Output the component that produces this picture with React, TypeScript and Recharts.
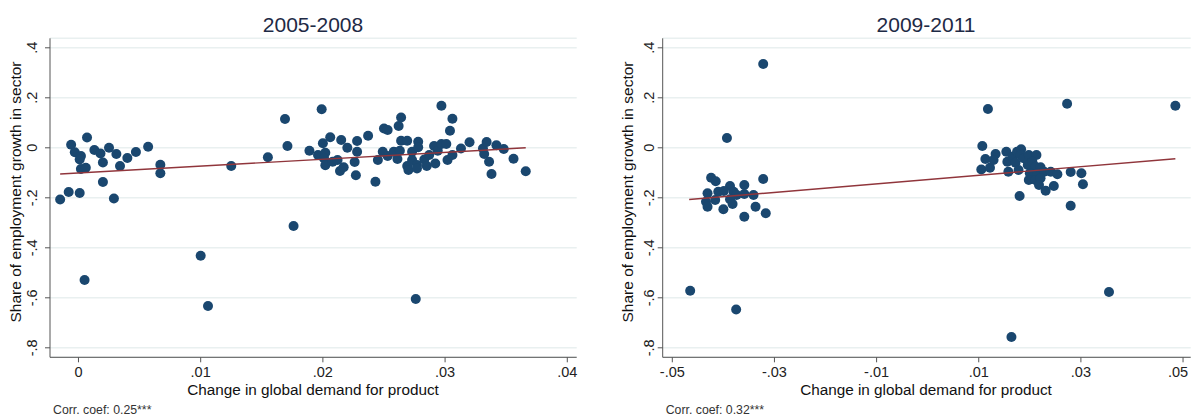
import { ScatterChart, Scatter, XAxis, YAxis, CartesianGrid } from 'recharts';

const FONT = '"Liberation Sans", Arial, Helvetica, sans-serif';
const NAVY = '#1a476f';
const MAROON = '#90353b';
const AXIS = '#555555';

const panelTitles = ['2005-2008', '2009-2011'];
const corrLabels = ['Corr. coef:  0.25***', 'Corr. coef:  0.32***'];
const xTitle = 'Change in global demand for product';
const yTitle = 'Share of employment growth in sector';

const yTicks = [-0.8, -0.6, -0.4, -0.2, 0, 0.2, 0.4];
const xTicks0508 = [0, 0.01, 0.02, 0.03, 0.04];
const xTicks0911 = [-0.05, -0.03, -0.01, 0.01, 0.03, 0.05];

// [change in global demand, share of employment growth]
const points0508: [number, number][] = [
  [-0.0015, -0.207], [-0.0008, -0.177], [0.0001, -0.181], [-0.0006, 0.012],
  [-0.0003, -0.018], [0.0002, -0.033], [0.0001, -0.047], [0.0002, -0.085],
  [0.0006, -0.08], [0.0007, 0.041], [0.0013, -0.009], [0.0018, -0.023],
  [0.002, -0.059], [0.002, -0.137], [0.0025, 0.0], [0.0031, -0.025],
  [0.0034, -0.073], [0.0029, -0.203], [0.004, -0.041], [0.0047, -0.017],
  [0.0057, 0.004], [0.0067, -0.068], [0.0067, -0.102], [0.0005, -0.529],
  [0.01, -0.432], [0.0106, -0.633], [0.0125, -0.073], [0.0155, -0.038],
  [0.0176, -0.313], [0.0169, 0.115], [0.0171, 0.007],
  [0.0199, 0.154], [0.0189, -0.012], [0.0196, -0.029], [0.02, 0.018],
  [0.0206, 0.042], [0.0202, -0.02], [0.0201, -0.043], [0.0202, -0.07],
  [0.0208, -0.056], [0.0212, -0.049], [0.0214, -0.093], [0.0217, -0.078],
  [0.0215, 0.031], [0.022, 0.0], [0.0228, 0.027], [0.0228, -0.016],
  [0.0226, -0.057], [0.0227, -0.11], [0.0237, 0.048], [0.0245, -0.049],
  [0.0243, -0.136], [0.025, 0.077], [0.0253, 0.071], [0.0249, -0.016],
  [0.0253, -0.033], [0.0262, 0.087], [0.0264, 0.121], [0.0264, 0.028],
  [0.0269, 0.028], [0.0258, -0.016], [0.0263, -0.012], [0.0261, -0.045],
  [0.0269, -0.073], [0.027, -0.089], [0.0273, -0.016], [0.0273, -0.049],
  [0.0277, -0.069], [0.0277, -0.083], [0.0278, 0.024], [0.0278, 0.002],
  [0.0283, -0.047], [0.0285, -0.073], [0.0287, -0.029], [0.0291, 0.007],
  [0.0292, -0.063], [0.0294, -0.012], [0.0297, 0.168], [0.0297, 0.015],
  [0.0301, 0.015], [0.0302, -0.049], [0.0304, 0.068], [0.0306, 0.116],
  [0.0306, -0.029], [0.0313, -0.003], [0.032, 0.022], [0.0331, -0.003],
  [0.0332, -0.025], [0.0334, 0.023], [0.0336, -0.056], [0.0338, -0.105],
  [0.0342, 0.01], [0.0348, -0.005], [0.0356, -0.044], [0.0366, -0.094],
  [0.0276, -0.605],
];

const points0911: [number, number][] = [
  [-0.0322, 0.335], [-0.0393, 0.039], [-0.0322, -0.125], [-0.0424, -0.12],
  [-0.0415, -0.134], [-0.0359, -0.149], [-0.0387, -0.153], [-0.0431, -0.182],
  [-0.041, -0.176], [-0.0399, -0.173], [-0.038, -0.176], [-0.0374, -0.189],
  [-0.0359, -0.185], [-0.0341, -0.189], [-0.0434, -0.216], [-0.0416, -0.209],
  [-0.0387, -0.206], [-0.0431, -0.236], [-0.04, -0.246], [-0.0382, -0.225],
  [-0.0337, -0.236], [-0.0359, -0.276], [-0.0317, -0.262], [-0.0465, -0.572],
  [-0.0375, -0.647],
  [0.0118, 0.155], [0.0107, 0.007], [0.0113, -0.045], [0.0105, -0.087],
  [0.0122, -0.08], [0.0133, -0.025], [0.0129, -0.049], [0.0154, -0.016],
  [0.0156, -0.056], [0.0158, -0.096], [0.0166, -0.036], [0.0172, -0.06],
  [0.0175, -0.016], [0.0183, -0.006], [0.0182, -0.029], [0.0178, -0.089],
  [0.0188, -0.042], [0.0198, -0.029], [0.0196, -0.069], [0.0213, -0.029],
  [0.0205, -0.056], [0.0211, -0.076], [0.0221, -0.078], [0.02, -0.102],
  [0.0215, -0.102], [0.0228, -0.096], [0.0198, -0.129], [0.0211, -0.129],
  [0.0221, -0.122], [0.0218, -0.149], [0.0231, -0.172], [0.0241, -0.096],
  [0.0254, -0.106], [0.0247, -0.153], [0.018, -0.193], [0.0273, 0.176],
  [0.028, -0.097], [0.0301, -0.102], [0.0304, -0.146], [0.028, -0.232],
  [0.0485, 0.168], [0.0355, -0.577], [0.0164, -0.757],
];

// fitted line end points
const fit0508: [number, number][] = [[-0.0015, -0.105], [0.0366, 0.0]];
const fit0911: [number, number][] = [[-0.0467, -0.207], [0.0485, -0.044]];

const toRows = (pts: [number, number][]) => pts.map(([x, y]) => ({ x, y }));

const fmt = (v: number) => {
  if (v === 0) return '0';
  const s = String(Math.abs(v)).replace(/^0/, '');
  return v < 0 ? '-' + s : s;
};

const Dot = (p: any) => <circle cx={p.cx} cy={p.cy} r={5} fill={NAVY} />;
const NoDot = () => <g />;

const XTick = ({ x, y, payload }: any) => (
  <text x={x} y={y} dy="0.71em" textAnchor="middle" fontSize={14.5} fontFamily={FONT} fill="#222">
    {fmt(payload.value)}
  </text>
);

const YTick = ({ x, y, payload }: any) => (
  <text
    x={x}
    y={y}
    transform={`rotate(-90 ${x} ${y})`}
    textAnchor="middle"
    fontSize={14.5}
    fontFamily={FONT}
    fill="#222"
  >
    {fmt(payload.value)}
  </text>
);

interface PanelProps {
  left: number;
  width: number;
  points: [number, number][];
  fit: [number, number][];
  xDomain: [number, number];
  xTicks: number[];
  marginLeft: number;
  marginRight: number;
  yTickMargin: number;
}

const Panel = ({ left, width, points, fit, xDomain, xTicks, marginLeft, marginRight, yTickMargin }: PanelProps) => (
  <div style={{ position: 'absolute', left, top: 0 }}>
    <ScatterChart
      width={width}
      height={417}
      margin={{ top: 38.3, right: marginRight, bottom: 29.7, left: marginLeft }}
      style={{ overflow: 'visible' }}
    >
      <CartesianGrid vertical={false} stroke="#e9f0f0" strokeWidth={1.5} />
      <XAxis
        type="number"
        dataKey="x"
        domain={xDomain}
        ticks={xTicks}
        allowDataOverflow
        height={30}
        tickSize={5}
        tickMargin={4.5}
        stroke={AXIS}
        tick={<XTick />}
      />
      <YAxis
        type="number"
        dataKey="y"
        domain={[-0.838, 0.438]}
        ticks={yTicks}
        allowDataOverflow
        width={50}
        tickSize={5}
        tickMargin={yTickMargin}
        stroke={AXIS}
        tick={<YTick />}
      />
      <Scatter data={toRows(points)} shape={Dot} isAnimationActive={false} />
      <Scatter
        data={toRows(fit)}
        shape={NoDot}
        line={{ stroke: MAROON, strokeWidth: 1.4 }}
        isAnimationActive={false}
      />
    </ScatterChart>
  </div>
);

const App = () => {
  return (
    <div style={{ position: 'absolute', left: 0, top: 0, width: 1192, height: 417, background: '#fff', fontFamily: FONT }}>
      <Panel
        left={0}
        width={600}
        points={points0508}
        fit={fit0508}
        xDomain={[-0.00233, 0.04077]}
        xTicks={xTicks0508}
        marginLeft={0}
        marginRight={23.3}
        yTickMargin={8}
      />
      <Panel
        left={600}
        width={592}
        points={points0911}
        fit={fit0911}
        xDomain={[-0.05188, 0.0515]}
        xTicks={xTicks0911}
        marginLeft={12.7}
        marginRight={1.3}
        yTickMargin={4}
      />
      <svg width={1192} height={417} style={{ position: 'absolute', left: 0, top: 0, pointerEvents: 'none' }}>
        <g fontFamily={FONT}>
          <text x={313} y={32} textAnchor="middle" fontSize={21} fill="#1e2a45">{panelTitles[0]}</text>
          <text x={926} y={32} textAnchor="middle" fontSize={21} fill="#1e2a45">{panelTitles[1]}</text>
          <text x={313} y={394.5} textAnchor="middle" fontSize={15.3} fill="#111">{xTitle}</text>
          <text x={926} y={395} textAnchor="middle" fontSize={15.3} fill="#111">{xTitle}</text>
          <text x={21} y={192} transform="rotate(-90 21 192)" textAnchor="middle" fontSize={15.5} fill="#111">{yTitle}</text>
          <text x={633} y={192} transform="rotate(-90 633 192)" textAnchor="middle" fontSize={15.5} fill="#111">{yTitle}</text>
          <text x={53} y={414} fontSize={12.3} fill="#333">{corrLabels[0]}</text>
          <text x={665.7} y={414} fontSize={12.3} fill="#333">{corrLabels[1]}</text>
        </g>
      </svg>
    </div>
  );
};

export default App;
